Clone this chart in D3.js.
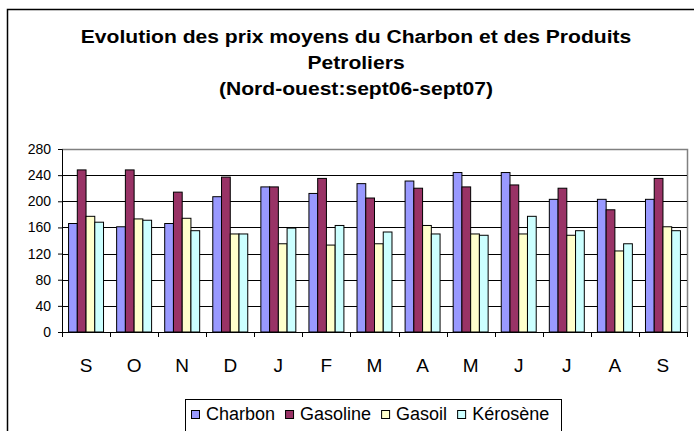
<!DOCTYPE html>
<html>
<head>
<meta charset="utf-8">
<script src="https://cdn.jsdelivr.net/npm/d3@7"></script>
<style>
  body { margin: 0; background: #fff; }
  svg { display: block; font-family: "Liberation Sans", Arial, sans-serif; }
</style>
</head>
<body>
<svg id="chart" width="694" height="431"></svg>
<script>
// months, sept 2006 -> sept 2007
const months = ['S', 'O', 'N', 'D', 'J', 'F', 'M', 'A', 'M', 'J', 'J', 'A', 'S'];
const seriesNames = ['Charbon', 'Gasoline', 'Gasoil', 'Kérosène'];
const charbon  = [166, 161, 166, 207, 222, 212, 227, 231, 244, 244, 203, 203, 203];
const gasoline = [248, 248, 214, 237, 222, 235, 205, 220, 222, 225, 220, 187, 235];
const gasoil   = [177, 173, 174, 150, 135, 133, 135, 163, 150, 150, 148, 124, 161];
const kerosene = [168, 171, 155, 150, 159, 163, 153, 150, 148, 177, 155, 135, 155];
const yTicks = [0, 40, 80, 120, 160, 200, 240, 280];
const titleLines = [
  'Evolution des prix moyens du Charbon et des Produits',
  'Petroliers',
  '(Nord-ouest:sept06-sept07)'
];

const colors = ['#9999ff', '#993366', '#ffffcc', '#ccffff'];
const series = [charbon, gasoline, gasoil, kerosene];

const svg = d3.select('#chart');

// outer chart frame (cut off on the right and bottom in the original)
svg.append('rect')
  .attr('x', 7.5).attr('y', 9.5)
  .attr('width', 760).attr('height', 500)
  .attr('fill', '#fff').attr('stroke', '#000').attr('stroke-width', 1.5);

// title (the original is a bit stretched horizontally)
svg.append('g')
  .attr('transform', 'translate(356,0) scale(1.14,1)')
  .selectAll('text')
  .data(titleLines)
  .enter().append('text')
  .attr('x', 0)
  .attr('y', (d, i) => 43 + i * 26)
  .attr('text-anchor', 'middle')
  .attr('font-size', 18.5)
  .attr('font-weight', 'bold')
  .text(d => d);

const plot = { left: 62, right: 687, top: 149, bottom: 332 };

const x = d3.scaleBand()
  .domain(d3.range(months.length))
  .range([plot.left, plot.right])
  .padding(0);

const x1 = d3.scaleBand()
  .domain(d3.range(series.length))
  .range([0, x.bandwidth()])
  .paddingInner(0)
  .paddingOuter(0.75);

const y = d3.scaleLinear()
  .domain([0, 280])
  .range([plot.bottom, plot.top]);

// plot area border (grey top / right)
svg.append('path')
  .attr('d', `M${plot.left},${plot.top + 0.5}H${plot.right + 0.5}V${plot.bottom}`)
  .attr('fill', 'none').attr('stroke', '#808080').attr('stroke-width', 1.5);

// gridlines
svg.append('g').selectAll('line')
  .data(yTicks.filter(t => t > 0 && t < 280))
  .enter().append('line')
  .attr('x1', plot.left).attr('x2', plot.right)
  .attr('y1', d => Math.round(y(d)) + 0.5).attr('y2', d => Math.round(y(d)) + 0.5)
  .attr('stroke', '#000').attr('stroke-width', 1);

// bars
const groups = svg.append('g').selectAll('g')
  .data(months.map((m, i) => i))
  .enter().append('g')
  .attr('transform', i => `translate(${x(i)},0)`);

groups.selectAll('rect')
  .data(i => series.map((s, k) => ({ k, v: s[i] })))
  .enter().append('rect')
  .attr('x', d => x1(d.k))
  .attr('y', d => y(d.v))
  .attr('width', x1.bandwidth())
  .attr('height', d => y(0) - y(d.v))
  .attr('fill', d => colors[d.k])
  .attr('stroke', '#000')
  .attr('stroke-width', 1);

// y axis
const yAxis = svg.append('g')
  .attr('transform', `translate(${plot.left},0)`)
  .call(d3.axisLeft(y).tickValues(yTicks).tickSize(4).tickPadding(7));
yAxis.select('.domain').attr('stroke', '#000');
yAxis.selectAll('text')
  .attr('font-size', 14)
  .attr('font-family', '"Liberation Sans", Arial, sans-serif')
  .attr('fill', '#000');

// x axis with ticks at category boundaries
const xAxisG = svg.append('g')
  .attr('transform', `translate(0,${plot.bottom})`);
xAxisG.append('line')
  .attr('x1', plot.left).attr('x2', plot.right + 0.5)
  .attr('y1', 0.5).attr('y2', 0.5)
  .attr('stroke', '#000');
xAxisG.selectAll('line.tick')
  .data(d3.range(months.length + 1))
  .enter().append('line')
  .attr('class', 'tick')
  .attr('x1', i => Math.round(plot.left + i * x.step()) + 0.5)
  .attr('x2', i => Math.round(plot.left + i * x.step()) + 0.5)
  .attr('y1', 0).attr('y2', 5)
  .attr('stroke', '#000');
xAxisG.selectAll('text')
  .data(months)
  .enter().append('text')
  .attr('x', (m, i) => x(i) + x.bandwidth() / 2)
  .attr('y', 40)
  .attr('text-anchor', 'middle')
  .attr('font-size', 19)
  .text(m => m);

// legend
const legend = svg.append('g');
legend.append('rect')
  .attr('x', 185.5).attr('y', 399.5)
  .attr('width', 376).attr('height', 60)
  .attr('fill', '#fff').attr('stroke', '#000');

let lx = 191;
seriesNames.forEach((name, k) => {
  legend.append('rect')
    .attr('x', lx + 0.5).attr('y', 410.5)
    .attr('width', 8).attr('height', 8)
    .attr('fill', colors[k]).attr('stroke', '#000');
  const t = legend.append('text')
    .attr('x', lx + 15)
    .attr('y', 420)
    .attr('font-size', 18)
    .text(name);
  lx += 15 + t.node().getComputedTextLength() + 10;
});
</script>
</body>
</html>
